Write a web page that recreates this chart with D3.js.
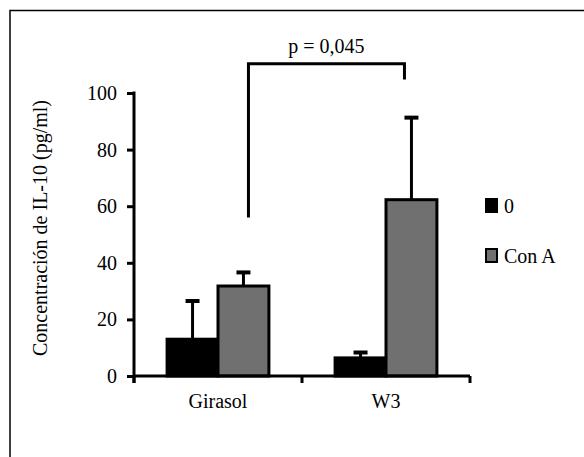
<!DOCTYPE html>
<meta charset="utf-8">
<style>
    body { margin: 0; background: #fff; }
    text { font-family: "Liberation Serif", "Times New Roman", serif; font-size: 20px; fill: #000; }
</style>
<body>
<script src="https://cdn.jsdelivr.net/npm/d3@7"></script>
<script>
    // data
    var groups = ["Girasol", "W3"];
    var series = ["0", "Con A"];
    var means = { "Girasol": [13, 31.8], "W3": [6.4, 62.3] };
    var errors = { "Girasol": [13.5, 4.8], "W3": [1.9, 29] };
    var yTicks = [0, 20, 40, 60, 80, 100];
    var colors = ["#000000", "#717070"];
    var yLabel = "Concentración de IL-10 (pg/ml)";
    var pText = "p = 0,045";
    // bracket in data units: top level, end levels left/right
    var bracket = { from: "Girasol", to: "W3", top: 110.3, leftEnd: 56, rightEnd: 104.8 };

    var W = 584, H = 457;
    var svg = d3.select("body").append("svg")
        .attr("width", W).attr("height", H);

    // frame (top + left only visible)
    svg.append("path")
        .attr("d", "M10," + H + "V10.5H" + W)
        .attr("fill", "none").attr("stroke", "#000").attr("stroke-width", 1.5);

    var x = d3.scaleBand().domain(groups).range([134, 470]).padding(0);
    var xi = d3.scaleBand().domain(series).range([0, x.bandwidth()]).paddingInner(0).paddingOuter(0.65);
    var y = d3.scaleLinear().domain([0, 100]).range([376, 93]);

    // y axis
    var yAxis = d3.axisLeft(y).tickValues(yTicks).tickSize(7).tickSizeOuter(0);
    var gy = svg.append("g").attr("transform", "translate(134,0)").call(yAxis);
    gy.select(".domain").remove();
    gy.selectAll(".tick line").attr("stroke-width", 3);
    gy.selectAll(".tick text").attr("x", -17).attr("font-size", null).attr("font-family", null);
    gy.attr("font-size", null).attr("font-family", null);
    svg.append("line")
        .attr("x1", 134).attr("x2", 134)
        .attr("y1", y(100) - 1.5).attr("y2", y(0) + 7)
        .attr("stroke", "#000").attr("stroke-width", 3);

    // bars
    var bars = [];
    groups.forEach(function(g) {
        series.forEach(function(s, i) {
            bars.push({ g: g, s: s, i: i, v: means[g][i], e: errors[g][i] });
        });
    });

    svg.append("g").selectAll("rect").data(bars).join("rect")
        .attr("x", function(d) { return x(d.g) + xi(d.s); })
        .attr("width", xi.bandwidth())
        .attr("y", function(d) { return y(d.v); })
        .attr("height", function(d) { return y(0) - y(d.v); })
        .attr("fill", function(d) { return colors[d.i]; })
        .attr("stroke", "#000")
        .attr("stroke-width", 3);

    // error bars (upper only)
    var eg = svg.append("g").attr("stroke", "#000");
    eg.selectAll("line.v").data(bars).join("line").attr("class", "v")
        .attr("x1", function(d) { return x(d.g) + xi(d.s) + xi.bandwidth() / 2; })
        .attr("x2", function(d) { return x(d.g) + xi(d.s) + xi.bandwidth() / 2; })
        .attr("y1", function(d) { return y(d.v); })
        .attr("y2", function(d) { return y(d.v + d.e); })
        .attr("stroke-width", 3);
    eg.selectAll("line.c").data(bars).join("line").attr("class", "c")
        .attr("x1", function(d) { return x(d.g) + xi(d.s) + xi.bandwidth() / 2 - 7; })
        .attr("x2", function(d) { return x(d.g) + xi(d.s) + xi.bandwidth() / 2 + 7; })
        .attr("y1", function(d) { return y(d.v + d.e); })
        .attr("y2", function(d) { return y(d.v + d.e); })
        .attr("stroke-width", 4);

    // x axis
    svg.append("line")
        .attr("x1", 134).attr("x2", 470)
        .attr("y1", y(0)).attr("y2", y(0))
        .attr("stroke", "#000").attr("stroke-width", 3);
    var bounds = groups.map(function(g) { return x(g); }).concat([x.range()[1]]);
    svg.append("g").selectAll("line").data(bounds).join("line")
        .attr("x1", function(d) { return d; }).attr("x2", function(d) { return d; })
        .attr("y1", y(0)).attr("y2", y(0) + 7)
        .attr("stroke", "#000").attr("stroke-width", 3);
    svg.append("g").selectAll("text").data(groups).join("text")
        .attr("x", function(d) { return x(d) + x.bandwidth() / 2; })
        .attr("y", 408)
        .attr("text-anchor", "middle")
        .text(function(d) { return d; });

    // y label
    svg.append("text")
        .attr("transform", "translate(47," + 228 + ") rotate(-90)")
        .attr("text-anchor", "middle")
        .text(yLabel);

    // significance bracket
    var bx1 = x(bracket.from) + xi("Con A") + xi.bandwidth() / 2 + 5;
    var bx2 = x(bracket.to) + xi("Con A") + xi.bandwidth() / 2 - 7;
    svg.append("path")
        .attr("d", "M" + bx1 + "," + y(bracket.leftEnd) +
                   "V" + y(bracket.top) +
                   "H" + bx2 +
                   "V" + y(bracket.rightEnd))
        .attr("fill", "none").attr("stroke", "#000").attr("stroke-width", 3);
    svg.append("text")
        .attr("x", (bx1 + bx2) / 2)
        .attr("y", y(bracket.top) - 11)
        .attr("text-anchor", "middle")
        .text(pText);

    // legend
    var lg = svg.append("g").selectAll("g").data(series).join("g")
        .attr("transform", function(d, i) { return "translate(486," + (199 + i * 50) + ")"; });
    lg.append("rect")
        .attr("width", 11).attr("height", 13)
        .attr("fill", function(d, i) { return colors[i]; })
        .attr("stroke", "#000").attr("stroke-width", 2);
    lg.append("text")
        .attr("x", 18).attr("y", 14)
        .text(function(d) { return d; });
</script>
